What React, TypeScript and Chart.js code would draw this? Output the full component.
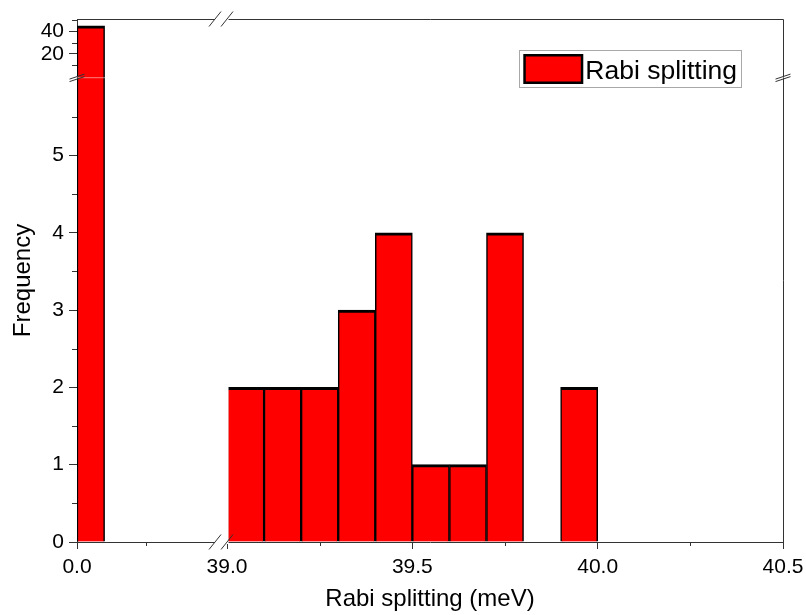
import React, { useEffect, useRef } from 'react';
import { Chart, registerables, LinearScale } from 'chart.js';

Chart.register(...registerables);

// ---------------- data ----------------
const SERIES_LABEL = 'Rabi splitting';
const LOW_BIN_CENTERS = [0.05];
const LOW_COUNTS = [45];
const BIN_CENTERS = [39.05, 39.15, 39.25, 39.35, 39.45, 39.55, 39.65, 39.75, 39.85, 39.95];
const COUNTS = [2, 2, 2, 3, 4, 1, 1, 4, 0, 2];
const BIN_WIDTH = 0.1;

const X_TICKS = [0, 39, 39.5, 40, 40.5];
const X_MINOR_TICKS = [0.25, 39.25, 39.75, 40.25];
const Y_TICKS = [0, 1, 2, 3, 4, 5, 20, 40];
const Y_MINOR_TICKS = [0.5, 1.5, 2.5, 3.5, 4.5, 5.5, 10, 30, 50];

const X_TITLE = 'Rabi splitting (meV)';
const Y_TITLE = 'Frequency';

// axis break layout: value ranges and the fraction of the axis length they occupy
const X_SEGMENTS = [
  { min: 0, max: 0.5, from: 0, to: 0.1955 },
  { min: 39, max: 40.5, from: 0.2125, to: 1 },
];
const Y_SEGMENTS = [
  { min: 0, max: 6, from: 0, to: 0.887 },
  { min: 6, max: 51, from: 0.903, to: 1 },
];

const SEGMENTS: Record<string, { min: number; max: number; from: number; to: number }[]> = {
  x: X_SEGMENTS,
  y: Y_SEGMENTS,
};
const TICKS: Record<string, number[]> = { x: X_TICKS, y: Y_TICKS };

// ---------------- styles ----------------
const FONT = '"Liberation Sans", Arial, sans-serif';
const AXIS = '#333333';
const BAR_FILL = '#ff0000';
const BAR_EDGE = '#000000';

// ---------------- broken linear scale ----------------
class BrokenLinearScale extends (LinearScale as any) {
  static id = 'brokenLinear';
  static defaults = (LinearScale as any).defaults;

  segs() {
    return SEGMENTS[(this as any).id];
  }
  determineDataLimits() {
    const s = this.segs();
    (this as any).min = s[0].min;
    (this as any).max = s[s.length - 1].max;
  }
  buildTicks() {
    return TICKS[(this as any).id].map((v) => ({ value: v }));
  }
  valueToDecimal(v: number) {
    const s = this.segs();
    for (let i = 0; i < s.length; i++) {
      const g = s[i];
      if (v >= g.min && v <= g.max) {
        return g.from + ((v - g.min) / (g.max - g.min)) * (g.to - g.from);
      }
      if (i < s.length - 1 && v > g.max && v < s[i + 1].min) {
        const n = s[i + 1];
        return g.to + ((v - g.max) / (n.min - g.max)) * (n.from - g.to);
      }
    }
    const g = v < s[0].min ? s[0] : s[s.length - 1];
    return g.from + ((v - g.min) / (g.max - g.min)) * (g.to - g.from);
  }
  getPixelForValue(value: number) {
    if (value === null || value === undefined || isNaN(value)) return NaN;
    return (this as any).getPixelForDecimal(this.valueToDecimal(+value));
  }
  getValueForPixel(pixel: number) {
    const d = (this as any).getDecimalForPixel(pixel);
    const s = this.segs();
    for (const g of s) {
      if (d >= g.from && d <= g.to) return g.min + ((d - g.from) / (g.to - g.from)) * (g.max - g.min);
    }
    return d < s[0].from ? s[0].min : s[s.length - 1].max;
  }
}
Chart.register(BrokenLinearScale as any);

// bar thickness derived from the x scale for one bin width of this dataset
const binThickness = (ctx: any) => {
  const scale = ctx.chart.scales.x;
  const ds = ctx.chart.data.datasets[ctx.datasetIndex];
  const c = ds.data[0].x;
  if (!scale || typeof scale.getPixelForValue !== 'function') return 10;
  return Math.abs(scale.getPixelForValue(c + BIN_WIDTH / 2) - scale.getPixelForValue(c - BIN_WIDTH / 2));
};

// ---------------- decorations: frame, breaks, minor ticks, inset legend ----------------
const decorations = {
  id: 'originDecor',
  afterDatasetsDraw(chart: any) {
    const { ctx, chartArea: a, scales } = chart;
    const xs = scales.x;
    const ys = scales.y;
    ctx.save();
    ctx.strokeStyle = AXIS;
    ctx.lineWidth = 1;
    // top + right frame lines
    ctx.beginPath();
    ctx.moveTo(a.left, a.top + 0.5);
    ctx.lineTo(a.right + 0.5, a.top + 0.5);
    ctx.lineTo(a.right + 0.5, a.bottom);
    ctx.stroke();

    // white gaps at breaks
    const xg0 = xs.getPixelForValue(X_SEGMENTS[0].max);
    const xg1 = xs.getPixelForValue(X_SEGMENTS[1].min);
    const yg0 = ys.getPixelForValue(Y_SEGMENTS[0].max);
    const yg1 = ys.getPixelForValue(Y_SEGMENTS[1].min);
    const yLow = Math.max(yg0, yg1);
    const yHigh = Math.min(yg0, yg1) - 0.5;
    ctx.fillStyle = '#ffffff';
    ctx.fillRect(xg0, a.top - 2, xg1 - xg0 + 1.5, a.bottom - a.top + 4);
    ctx.fillRect(a.left - 2, yHigh, a.right - a.left + 4, yLow - yHigh);

    // break slashes
    ctx.beginPath();
    for (const xb of [xg0, xg1]) {
      for (const yb of [a.bottom, a.top]) {
        ctx.moveTo(xb - 6, yb + 7.5);
        ctx.lineTo(xb + 6, yb - 7.5);
      }
    }
    for (const yb of [yHigh - 1, yLow + 1]) {
      for (const xb of [a.left, a.right]) {
        ctx.moveTo(xb - 7.5, yb + 2.5);
        ctx.lineTo(xb + 7.5, yb - 2.5);
      }
    }
    ctx.stroke();

    // minor ticks
    ctx.beginPath();
    for (const v of X_MINOR_TICKS) {
      const px = Math.round(xs.getPixelForValue(v)) + 0.5;
      ctx.moveTo(px, a.bottom);
      ctx.lineTo(px, a.bottom + 4);
    }
    for (const v of Y_MINOR_TICKS) {
      const py = Math.round(ys.getPixelForValue(v)) + 0.5;
      if (py < a.top - 1) continue;
      ctx.moveTo(a.left, py);
      ctx.lineTo(a.left - 5, py);
    }
    ctx.stroke();

    // inset legend
    const ds = chart.data.datasets[0];
    const fontSize = 26.5;
    ctx.font = `${fontSize}px ${FONT}`;
    const tw = ctx.measureText(ds.label).width;
    const boxH = 37;
    const swW = 60;
    const swH = 30;
    const boxW = 4 + swW + 3 + tw + 3;
    const right = a.right - 42;
    const left = right - boxW;
    const top = a.top + 31;
    ctx.strokeStyle = '#a8a8a8';
    ctx.lineWidth = 1;
    ctx.strokeRect(Math.round(left) + 0.5, Math.round(top) + 0.5, Math.round(boxW), boxH);
    ctx.fillStyle = BAR_EDGE;
    ctx.fillRect(left + 4, top + 4, swW, swH);
    ctx.fillStyle = ds.backgroundColor;
    ctx.fillRect(left + 6.5, top + 6.5, swW - 5, swH - 5);
    ctx.fillStyle = '#000000';
    ctx.textBaseline = 'alphabetic';
    ctx.textAlign = 'left';
    ctx.fillText(ds.label, left + 4 + swW + 2, top + 29);
    ctx.restore();
  },
};

export default function App() {
  const ref = useRef<HTMLCanvasElement | null>(null);

  useEffect(() => {
    if (!ref.current) return;
    const barStyle = {
      backgroundColor: BAR_FILL,
      borderColor: BAR_EDGE,
      borderWidth: { top: 3, left: 1.5, right: 1.5, bottom: 0 },
      borderSkipped: 'bottom',
      grouped: false,
      barThickness: binThickness,
    };
    const chart = new Chart(ref.current, {
      type: 'bar',
      data: {
        datasets: [
          {
            label: SERIES_LABEL,
            data: BIN_CENTERS.map((x, i) => ({ x, y: COUNTS[i] })),
            ...barStyle,
          } as any,
          {
            label: SERIES_LABEL + ' (low)',
            data: LOW_BIN_CENTERS.map((x, i) => ({ x, y: LOW_COUNTS[i] })),
            ...barStyle,
          } as any,
        ],
      },
      options: {
        animation: false,
        responsive: true,
        maintainAspectRatio: false,
        layout: { padding: { top: 19, right: 23, left: 0, bottom: 0 } },
        plugins: {
          legend: { display: false },
          tooltip: { enabled: false },
        },
        scales: {
          x: {
            type: 'brokenLinear' as any,
            position: 'bottom',
            offset: false,
            grid: {
              offset: false,
              drawOnChartArea: false,
              drawTicks: true,
              tickLength: 7,
              color: AXIS,
              tickColor: AXIS,
            },
            border: { display: true, color: AXIS, width: 1 },
            ticks: {
              autoSkip: false,
              maxRotation: 0,
              minRotation: 0,
              padding: 6,
              color: '#000000',
              font: { family: FONT, size: 21 },
              callback: (v: any) => Number(v).toFixed(1),
            },
            title: {
              display: true,
              text: X_TITLE,
              color: '#000000',
              font: { family: FONT, size: 24 },
              padding: { top: 0, bottom: 1 },
            },
            afterFit: (s: any) => {
              s.height = 73;
              s.paddingLeft = 0;
              s.paddingRight = 0;
            },
          } as any,
          y: {
            type: 'brokenLinear' as any,
            position: 'left',
            grid: {
              drawOnChartArea: false,
              drawTicks: true,
              tickLength: 8,
              color: AXIS,
              tickColor: AXIS,
            },
            border: { display: true, color: AXIS, width: 1 },
            ticks: {
              autoSkip: false,
              padding: 5,
              color: '#000000',
              font: { family: FONT, size: 21 },
              callback: (v: any) => String(v),
            },
            title: {
              display: true,
              text: Y_TITLE,
              color: '#000000',
              font: { family: FONT, size: 24 },
              padding: { top: 9, bottom: 0 },
            },
            afterFit: (s: any) => {
              s.width = 77;
              s.paddingTop = 0;
              s.paddingBottom = 0;
            },
          } as any,
        },
      },
      plugins: [decorations],
    });
    return () => chart.destroy();
  }, []);

  return (
    <div
      style={{
        position: 'fixed',
        left: 0,
        top: 0,
        width: 806,
        height: 615,
        background: '#ffffff',
      }}
    >
      <canvas ref={ref} />
    </div>
  );
}
